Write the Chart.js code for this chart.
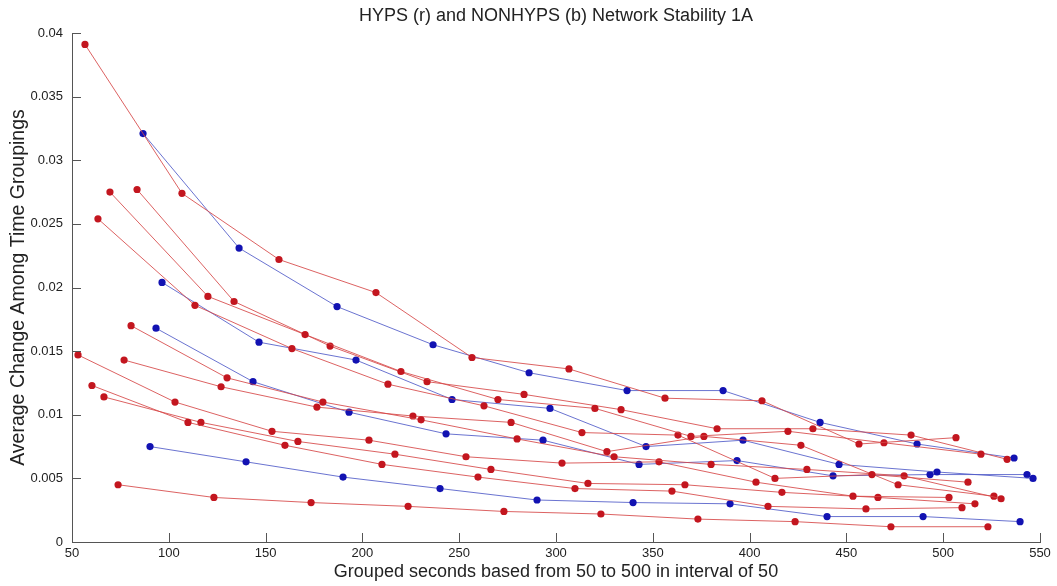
<!DOCTYPE html>
<html><head><meta charset="utf-8">
<script src="https://cdn.jsdelivr.net/npm/chart.js@4/dist/chart.umd.min.js"></script>
<style>html,body{margin:0;padding:0;background:#fff;overflow:hidden}</style>
</head><body>
<canvas id="c" width="1057" height="586"></canvas>
<script>
// Tick values / labels
const xTicks = [50,100,150,200,250,300,350,400,450,500,550];
const yTicks = [0,0.005,0.01,0.015,0.02,0.025,0.03,0.035,0.04];
const yTickLabels = ['0','0.005','0.01','0.015','0.02','0.025','0.03','0.035','0.04'];

// HYPS (red) series
const hyps1X = [56.7,106.8,156.9,207.0,256.6,306.7,356.3,406.4,456.5,506.6];
const hyps1Y = [0.0391,0.0274,0.0222,0.0196,0.0145,0.0136,0.0113,0.0111,0.0077,0.0082];
const hyps2X = [69.6,120.2,170.4,219.9,270.0,320.1,369.7,419.8,469.4,519.5];
const hyps2Y = [0.0275,0.0193,0.0163,0.0134,0.0112,0.0105,0.0083,0.0087,0.0078,0.0069];
const hyps3X = [83.6,133.7,183.3,233.4,283.5,333.6,383.2,432.7,483.4,533.0];
const hyps3Y = [0.0277,0.0189,0.0154,0.0126,0.0116,0.0104,0.0089,0.0089,0.0084,0.0065];
const hyps4X = [63.4,113.5,163.6,213.2,262.8,313.4,363.0,413.1,463.2,512.8];
const hyps4Y = [0.0254,0.0186,0.0152,0.0124,0.0107,0.0086,0.0084,0.0050,0.0053,0.0047];
const hyps5X = [80.5,130.1,179.6,230.3,279.9,330.0,380.1,429.6,479.8,529.9];
const hyps5Y = [0.0170,0.0129,0.0110,0.0096,0.0081,0.0067,0.0061,0.0057,0.0052,0.0034];
const hyps6X = [53.1,103.2,153.3,203.4,253.5,303.1,353.2,403.3,453.4,503.0];
const hyps6Y = [0.0147,0.0110,0.0087,0.0080,0.0067,0.0062,0.0063,0.0047,0.0036,0.0035];
const hyps7X = [76.9,127.0,176.5,226.1,276.8,326.3,376.4,426.5,476.7,526.2];
const hyps7Y = [0.0143,0.0122,0.0106,0.0099,0.0094,0.0071,0.0083,0.0076,0.0045,0.0036];
const hyps8X = [60.3,109.9,160.0,210.1,259.7,309.8,359.9,409.5,460.1,509.7];
const hyps8Y = [0.0123,0.0094,0.0076,0.0061,0.0051,0.0042,0.0040,0.0028,0.0026,0.0027];
const hyps9X = [66.5,116.6,166.7,216.8,266.4,316.5,366.6,416.7,466.3,516.4];
const hyps9Y = [0.0114,0.0094,0.0079,0.0069,0.0057,0.0046,0.0045,0.0039,0.0035,0.0030];
const hyps10X = [73.8,123.3,173.5,223.6,273.1,323.2,373.3,423.5,473.0,523.1];
const hyps10Y = [0.0045,0.0035,0.0031,0.0028,0.0024,0.0022,0.0018,0.0016,0.0012,0.0012];

// NONHYPS (blue) series
const non1X = [86.7,136.3,186.9,236.5,286.1,336.7,386.3,436.4,486.5,536.6];
const non1Y = [0.0321,0.0231,0.0185,0.0155,0.0133,0.0119,0.0119,0.0094,0.0077,0.0066];
const non2X = [96.5,146.6,196.7,246.3,296.9,346.5,396.6,446.2,496.8,546.4];
const non2Y = [0.0204,0.0157,0.0143,0.0112,0.0105,0.0075,0.0080,0.0061,0.0055,0.0050];
const non3X = [93.4,143.5,193.1,243.2,293.3,342.9,393.5,443.1,493.2,543.3];
const non3Y = [0.0168,0.0126,0.0102,0.0085,0.0080,0.0061,0.0064,0.0052,0.0053,0.0053];
const non4X = [90.3,139.9,190.0,240.1,290.2,339.8,389.9,440.0,489.6,539.7];
const non4Y = [0.0075,0.0063,0.0051,0.0042,0.0033,0.0031,0.0030,0.0020,0.0020,0.0016];

const redSeries = [[hyps1X,hyps1Y],[hyps2X,hyps2Y],[hyps3X,hyps3Y],[hyps4X,hyps4Y],[hyps5X,hyps5Y],
  [hyps6X,hyps6Y],[hyps7X,hyps7Y],[hyps8X,hyps8Y],[hyps9X,hyps9Y],[hyps10X,hyps10Y]];
const blueSeries = [[non1X,non1Y],[non2X,non2Y],[non3X,non3Y],[non4X,non4Y]];

function mk(pair, line, dot){
  return {
    data: pair[0].map((x,i)=>({x:x, y:pair[1][i]})),
    showLine:true, borderColor:line, borderWidth:1, backgroundColor:dot,
    pointRadius:3.6, pointBorderWidth:0, pointHoverRadius:3.6, tension:0
  };
}
const datasets = [];
redSeries.forEach(p=>datasets.push(mk(p,'rgba(214,70,70,0.85)','#c3161f')));
blueSeries.forEach(p=>datasets.push(mk(p,'rgba(80,90,200,0.85)','#1212b2')));

const inwardTicks = {
  id:'inwardTicks',
  afterDraw(chart){
    const {ctx, chartArea:a, scales} = chart;
    ctx.save(); ctx.strokeStyle='#555'; ctx.lineWidth=1; ctx.beginPath();
    xTicks.forEach(v=>{const px=Math.round(scales.x.getPixelForValue(v))+0.5; ctx.moveTo(px,a.bottom); ctx.lineTo(px,a.bottom-9);});
    yTicks.forEach(v=>{const py=Math.round(scales.y.getPixelForValue(v))+0.5; ctx.moveTo(a.left,py); ctx.lineTo(a.left+9,py);});
    ctx.stroke(); ctx.restore();
  }
};

const FONT = "'Liberation Sans', Arial, sans-serif";
new Chart(document.getElementById('c'), {
  type:'scatter',
  data:{datasets},
  plugins:[inwardTicks],
  options:{
    responsive:false, animation:false, devicePixelRatio:1,
    layout:{padding:{left:0,right:17,top:0,bottom:0}},
    plugins:{
      legend:{display:false}, tooltip:{enabled:false},
      title:{display:true, fullSize:false, text:'HYPS (r) and NONHYPS (b) Network Stability 1A',
        color:'#222', font:{family:FONT, size:18, weight:'normal'}, padding:{top:5,bottom:6.4}}
    },
    scales:{
      x:{type:'linear', min:50, max:550,
        afterBuildTicks:s=>{s.ticks = xTicks.map(v=>({value:v}));},
        afterFit:s=>{s.height=44;},
        grid:{display:false, drawTicks:false},
        border:{display:true, color:'#555', width:1},
        ticks:{color:'#222', padding:4, maxRotation:0, autoSkip:false, font:{family:FONT, size:13},
          callback:v=>String(v)},
        title:{display:true, text:'Grouped seconds based from 50 to 500 in interval of 50', color:'#222',
          font:{family:FONT, size:18}, padding:{top:0,bottom:3.5}}
      },
      y:{type:'linear', min:0, max:0.04,
        afterBuildTicks:s=>{s.ticks = yTicks.map(v=>({value:v}));},
        afterFit:s=>{s.width=72;},
        grid:{display:false, drawTicks:false},
        border:{display:true, color:'#555', width:1},
        ticks:{color:'#222', padding:9, autoSkip:false, font:{family:FONT, size:13},
          callback:(v)=>{const i=yTicks.findIndex(t=>Math.abs(t-v)<1e-9); return i>=0?yTickLabels[i]:'';}},
        title:{display:true, text:'Average Change Among Time Groupings', color:'#222',
          font:{family:FONT, size:19.5}, padding:{top:7,bottom:0}}
      }
    }
  }
});
</script>
</body></html>
